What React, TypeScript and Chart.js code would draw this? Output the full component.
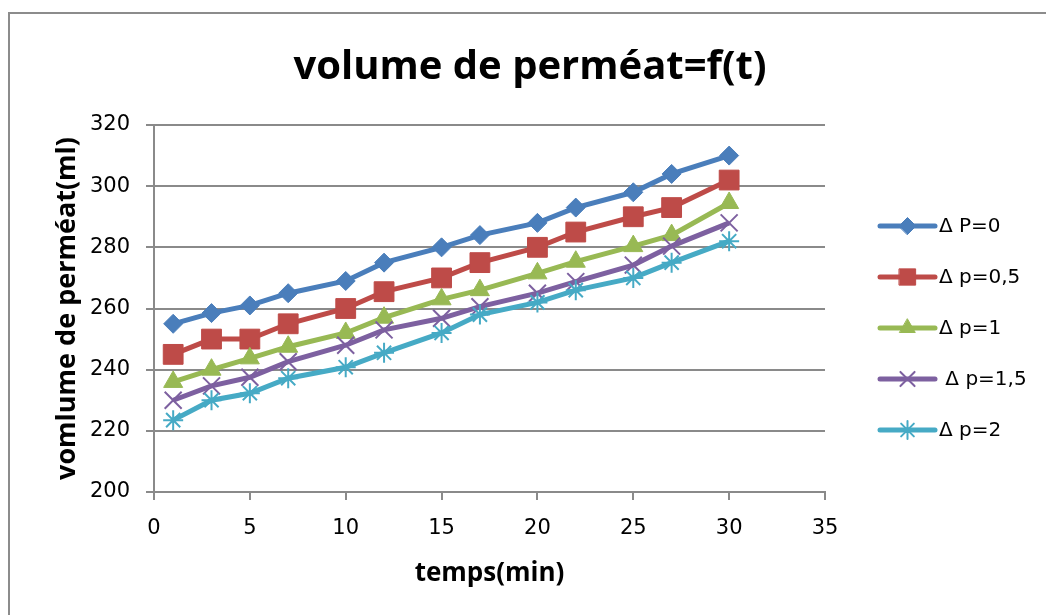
import React, { useEffect, useRef } from 'react';
import { Chart, registerables } from 'chart.js';
import { drawPoint } from 'chart.js/helpers';

Chart.register(...registerables);

const timeMin = [1, 3, 5, 7, 10, 12, 15, 17, 20, 22, 25, 27, 30];
const seriesP0 = [255, 258.5, 261, 265, 269, 275, 280, 284, 288, 293, 298, 304, 310];
const seriesP05 = [245, 250, 250, 255, 260, 265.5, 270, 275, 280, 285, 290, 293, 302];
const seriesP1 = [236, 240, 243.7, 247.5, 252, 257, 263, 266, 271.5, 275.3, 280.4, 284, 294.5];
const seriesP15 = [230, 234.7, 237.5, 242.6, 248, 253, 256.8, 260.6, 265, 268.8, 274.2, 280.4, 288];
const seriesP2 = [223.5, 230, 232.3, 237.2, 240.8, 245.5, 252, 258, 262, 266, 270, 275, 282];
const seriesLabels = ['Δ P=0', 'Δ p=0,5', 'Δ p=1', ' Δ p=1,5', 'Δ p=2'];
const seriesColors = ['#4A7EBB', '#BE4B48', '#98B954', '#7D60A0', '#46AAC5'];
const pointStyles = ['rectRot', 'rect', 'triangle', 'crossRot', 'star'];
const pointRadii = [9.5, 14, 11, 12, 10];
const legendRadii = [8.5, 11.5, 9, 10, 9];
const chartTitle = 'volume de perméat=f(t)';
const xTitle = 'temps(min)';
const yTitle = 'vomlume de perméat(ml)';
const xMin = 0, xMax = 35, xStep = 5;
const yMin = 200, yMax = 320, yStep = 20;

const FONT = "'Open Sans', 'Liberation Sans', sans-serif";
const TICK_FONT = "'DejaVu Sans', sans-serif";

const customLegend = {
  id: 'customLegend',
  afterDraw(chart: any) {
    const ctx = chart.ctx;
    const x0 = 880, x1 = 935, tx = 939, top = 226, gap = 51;
    chart.data.datasets.forEach((ds: any, i: number) => {
      const y = top + i * gap;
      ctx.save();
      ctx.strokeStyle = ds.borderColor;
      ctx.lineWidth = 5;
      ctx.lineCap = 'round';
      ctx.beginPath();
      ctx.moveTo(x0, y);
      ctx.lineTo(x1, y);
      ctx.stroke();
      ctx.fillStyle = ds.pointBackgroundColor;
      ctx.strokeStyle = ds.pointBorderColor;
      ctx.lineWidth = ds.pointBorderWidth;
      drawPoint(ctx, { pointStyle: ds.pointStyle, radius: legendRadii[i], rotation: 0, borderWidth: ds.pointBorderWidth }, (x0 + x1) / 2, y);
      ctx.fillStyle = '#000';
      ctx.font = `20px ${TICK_FONT}`;
      ctx.textBaseline = 'middle';
      ctx.textAlign = 'left';
      ctx.fillText(ds.label, tx, y + 1);
      ctx.restore();
    });
  },
};

export default function App() {
  const ref = useRef<HTMLCanvasElement | null>(null);
  useEffect(() => {
    if (!ref.current) return;
    const allSeries = [seriesP0, seriesP05, seriesP1, seriesP15, seriesP2];
    const chart = new Chart(ref.current, {
      type: 'line',
      data: {
        datasets: allSeries.map((s, i) => ({
          label: seriesLabels[i],
          data: s.map((v, j) => ({ x: timeMin[j], y: v })),
          borderColor: seriesColors[i],
          backgroundColor: seriesColors[i],
          pointBackgroundColor: seriesColors[i],
          pointBorderColor: seriesColors[i],
          pointBorderWidth: i >= 3 ? 2 : 1,
          borderWidth: 5,
          pointStyle: pointStyles[i],
          pointRadius: pointRadii[i],
          tension: 0,
          order: 4 - i,
        })),
      },
      options: {
        responsive: false,
        animation: false,
        layout: { padding: { left: 14, right: 0, top: 0, bottom: 0 } },
        plugins: {
          legend: { display: false },
          tooltip: { enabled: false },
          title: {
            display: true,
            text: chartTitle,
            color: '#000',
            font: { family: FONT, size: 40, weight: 'bold', lineHeight: 1.2 },
            padding: { top: 44, bottom: 33 },
          },
        },
        scales: {
          x: {
            type: 'linear',
            min: xMin,
            max: xMax,
            ticks: { stepSize: xStep, color: '#000', font: { family: TICK_FONT, size: 21 }, padding: 16, maxRotation: 0 },
            grid: { drawOnChartArea: false, drawTicks: true, tickLength: 8, color: '#8a8a8a', lineWidth: 2 },
            border: { display: true, color: '#8a8a8a', width: 2 },
            title: { display: true, text: xTitle, color: '#000', font: { family: FONT, size: 26, weight: 'bold', lineHeight: 1.2 }, padding: { bottom: 26 } },
            afterFit: (s: any) => { s.height = 123; },
          },
          y: {
            type: 'linear',
            min: yMin,
            max: yMax,
            ticks: { stepSize: yStep, color: '#000', font: { family: TICK_FONT, size: 21 }, padding: 16 },
            grid: { color: '#8a8a8a', lineWidth: 2, tickLength: 8 },
            border: { display: true, color: '#8a8a8a', width: 2 },
            title: { display: true, text: yTitle, color: '#000', font: { family: FONT, size: 27, weight: 'bold', lineHeight: 1.2 }, padding: { top: 37 } },
            afterFit: (s: any) => { s.width = 140; },
          },
          spacer: {
            type: 'linear',
            position: 'right',
            display: true,
            ticks: { display: false },
            grid: { display: false },
            border: { display: false },
            afterFit: (s: any) => { s.width = 221; },
          },
        },
      },
      plugins: [customLegend],
    } as any);
    return () => chart.destroy();
  }, []);
  return (
    <div style={{ position: 'fixed', left: 0, top: 0, width: 1046, height: 615, background: '#fff', overflow: 'hidden' }}>
      <canvas ref={ref} width={1046} height={615} style={{ position: 'absolute', left: 0, top: 0 }} />
      <div style={{ position: 'absolute', left: 8, top: 12, width: 1100, height: 700, border: '2px solid #8c8c8c', boxSizing: 'border-box', pointerEvents: 'none' }} />
    </div>
  );
}
